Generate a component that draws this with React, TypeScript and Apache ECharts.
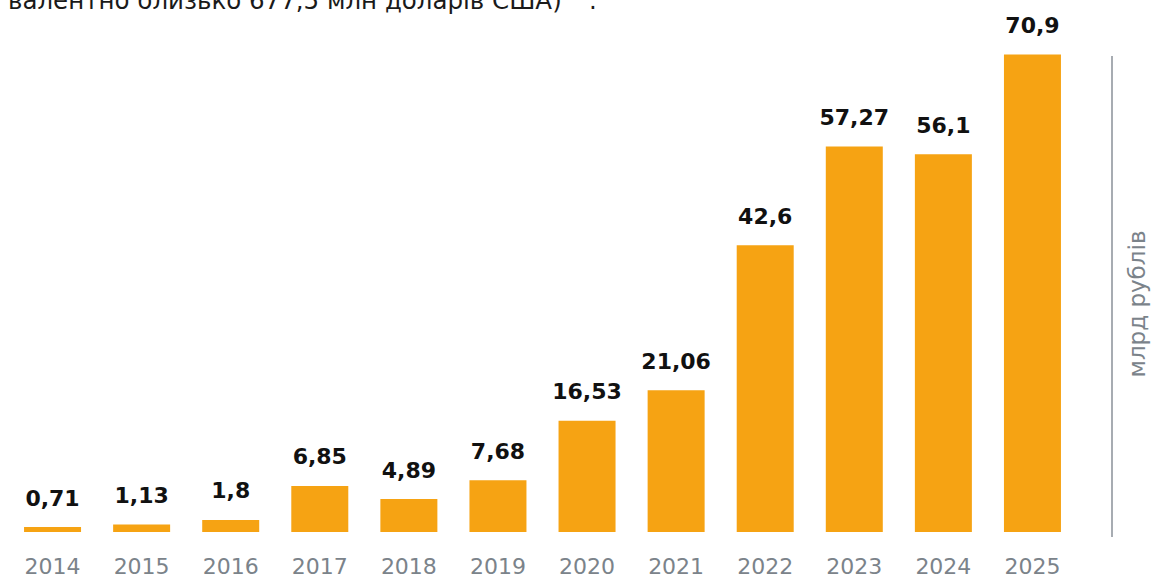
import React, { useEffect, useRef } from "react";
import * as echarts from "echarts";

const categories = ["2014", "2015", "2016", "2017", "2018", "2019", "2020", "2021", "2022", "2023", "2024", "2025"];
const values = [0.71, 1.13, 1.8, 6.85, 4.89, 7.68, 16.53, 21.06, 42.6, 57.27, 56.1, 70.9];
const unitLabel = "млрд рублів";
const topText = "валентно близько 677,5 млн доларів США)";
const topTail = ".";

const fmt = (v: number) => String(v).replace(".", ",");

export default function App() {
  const ref = useRef<HTMLDivElement>(null);
  useEffect(() => {
    if (!ref.current) return;
    const chart = echarts.init(ref.current, null, { renderer: "svg" });
    chart.setOption({
      animation: false,
      grid: { left: 8, right: 76, top: 27, bottom: 49, containLabel: false },
      xAxis: {
        type: "category",
        data: categories,
        axisLine: { show: false },
        axisTick: { show: false },
        axisLabel: {
          color: "#7b838a",
          fontSize: 22,
          fontFamily: "DejaVu Sans",
          margin: 23,
        },
      },
      yAxis: {
        type: "value",
        min: 0,
        max: 75,
        show: false,
        splitLine: { show: false },
      },
      series: [
        {
          type: "bar",
          data: values,
          barWidth: 57,
          barMinHeight: 5,
          itemStyle: { color: "#F6A313" },
          label: {
            show: true,
            position: "top",
            distance: 18,
            color: "#111",
            fontSize: 22,
            fontWeight: "bold",
            fontFamily: "DejaVu Sans",
            formatter: (p: any) => fmt(p.value),
          },
        },
      ],
      graphic: [
        {
          type: "line",
          shape: { x1: 1112, y1: 56, x2: 1112, y2: 537 },
          style: { stroke: "#8a9198", lineWidth: 1.5 },
        },
        {
          type: "text",
          x: 1137,
          y: 304,
          rotation: Math.PI / 2,
          style: {
            text: unitLabel,
            fill: "#7b838a",
            fontSize: 23,
            fontFamily: "DejaVu Sans",
            align: "center",
            verticalAlign: "middle",
          },
        },
        {
          type: "text",
          x: 8,
          y: 13,
          style: {
            text: topText,
            fill: "#1a1a1a",
            fontSize: 24.5,
            fontFamily: "DejaVu Sans",
            verticalAlign: "bottom",
          },
        },
        {
          type: "text",
          x: 589,
          y: 13,
          style: {
            text: topTail,
            fill: "#1a1a1a",
            fontSize: 24.5,
            fontFamily: "DejaVu Sans",
            verticalAlign: "bottom",
          },
        },
      ],
    });
    return () => chart.dispose();
  }, []);
  return (
    <div
      ref={ref}
      style={{ position: "fixed", left: 0, top: 0, width: 1153, height: 581, background: "#fff" }}
    />
  );
}
